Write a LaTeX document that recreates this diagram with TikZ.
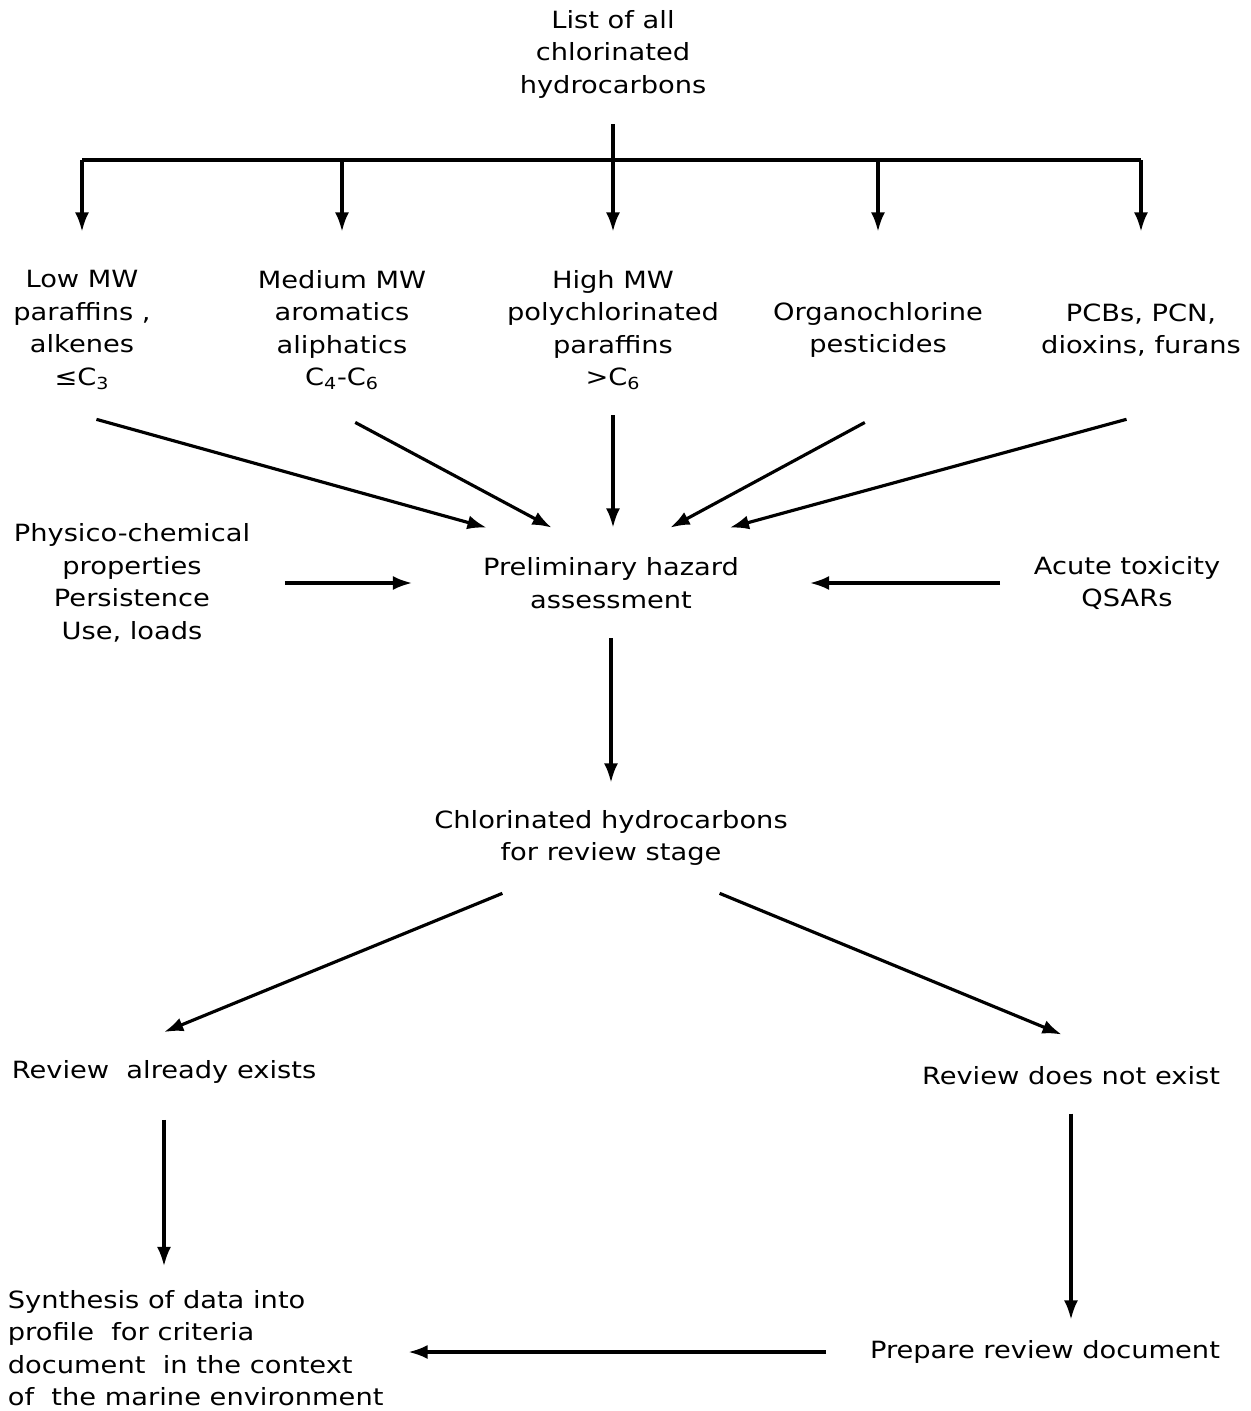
\documentclass[tikz,border=0pt]{standalone}
\usepackage{fontspec}
\setmainfont{DejaVu Sans}[FakeStretch=1.15]
\usetikzlibrary{arrows.meta}

\tikzset{
  txt/.style={align=center, font=\fontsize{13.5}{18.5}\selectfont, inner sep=2pt},
  cat/.style={txt, minimum height=3.4cm},
  hub/.style={txt, minimum width=7.54cm, minimum height=2.2cm},
  lbl/.style={txt, inner ysep=16pt},
  line/.style={line width=1.8pt},
  arr/.style={line, -{Latex[length=11pt,width=8pt]}}
}

\begin{document}
\begin{tikzpicture}[x=0.02cm, y=-0.02cm]
    \useasboundingbox (0,0) rectangle (1251,1411);
      \node[txt] (list) at (613,54) {List of all\\chlorinated\\hydrocarbons};
      \coordinate (bar) at (613,160);
      \node[cat] (low) at (82,330) {Low MW\\paraffins ,\\alkenes\\≤C\textsubscript{3}};
      \node[cat] (medium) at (342,330) {Medium MW\\aromatics\\aliphatics\\C\textsubscript{4}-C\textsubscript{6}};
      \node[cat] (high) at (613,330) {High MW\\polychlorinated\\paraffins\\>C\textsubscript{6}};
      \node[cat] (organo) at (878,330) {Organochlorine\\pesticides};
      \node[cat] (pcb) at (1141,330) {PCBs, PCN,\\dioxins, furans};
      \node[hub] (prelim) at (611,583) {Preliminary hazard\\assessment};
      \node[txt] (physchem) at (132,583) {Physico-chemical\\properties\\Persistence\\Use, loads};
      \node[txt] (acute) at (1127,583) {Acute toxicity\\QSARs};
      \node[hub] (review) at (611,838) {Chlorinated hydrocarbons\\for review stage};
      \node[lbl] (exists) at (164,1072) {Review\ \ already exists};
      \node[lbl] (notexist) at (1071,1076) {Review does not exist};
      \node[txt, anchor=west, align=left] (synth) at (4,1348) {Synthesis of data into\\profile\ \ for criteria\\document\ \ in the context\\of\ \ the marine environment};
      \node[txt] (prepare) at (1045,1352) {Prepare review document};

      % tree from the list
      \draw[line, shorten <=0.45cm] (list) -- (bar);
      \draw[line] (low |- bar) -- (pcb |- bar);
      \foreach \n in {low,medium,high,organo,pcb}
        \draw[arr, shorten >=0.26cm] (\n |- bar) -- (\n.north);

      \draw[arr, shorten <=0.3cm] (low.south) -- (prelim.156);
      \draw[arr, shorten <=0.3cm] (medium.south) -- (prelim.137);
      \draw[arr] (high.south) -- (high.south |- prelim.north);
      \draw[arr, shorten <=0.3cm] (organo.south) -- (prelim.43);
      \draw[arr, shorten <=0.3cm] (pcb.south) -- (prelim.25);
      \draw[arr, shorten <=0.62cm, shorten >=0.2cm] (physchem) -- (prelim);
      \draw[arr, shorten <=0.6cm, shorten >=0.2cm] (acute) -- (prelim);

      \draw[arr] (prelim) -- (review);
      \draw[arr] (review.207) -- (exists.north);
      \draw[arr, shorten >=0.2cm] (review.-27) -- (notexist.north);
      \draw[arr, shorten <=0.16cm, shorten >=0.4cm] (exists) -- (exists |- synth.north);
      \draw[arr, shorten >=0.34cm] (notexist) -- (notexist |- prepare.north);
      \draw[arr, shorten <=0.8cm, shorten >=0.42cm] (prepare) -- (prepare -| synth.east);
    \end{tikzpicture}
\end{document}
